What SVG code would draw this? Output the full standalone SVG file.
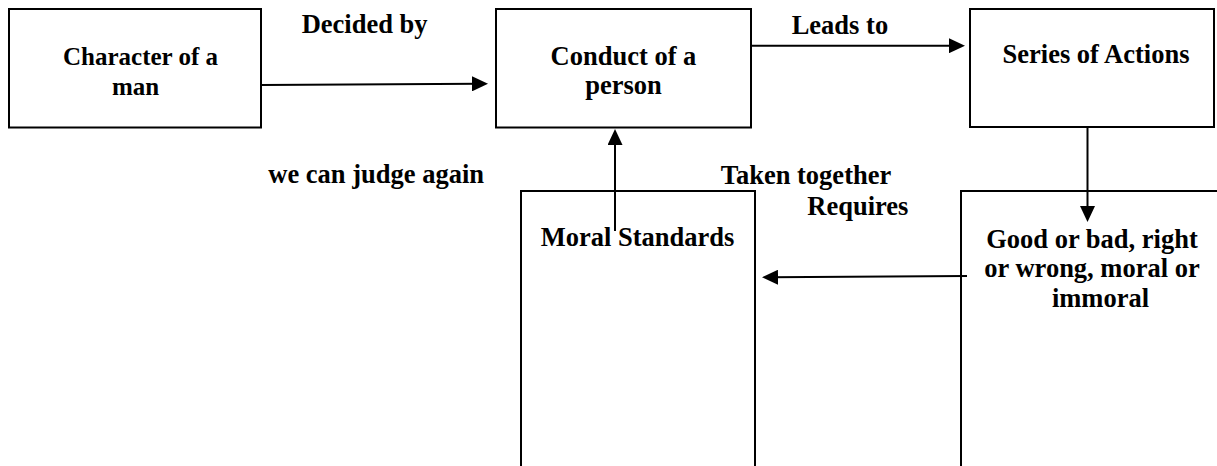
<svg xmlns="http://www.w3.org/2000/svg" width="1217" height="466" viewBox="0 0 1217 466">
<style>
.box{fill:#fff;stroke:#000;stroke-width:2}
.t{font-family:"Liberation Serif","Times New Roman",serif;font-weight:bold;font-size:26.5px;fill:#000}
.c{text-anchor:middle}
.ln{stroke:#000;stroke-width:2;fill:none;marker-end:url(#ah)}
</style>
<defs>
<marker id="ah" viewBox="0 0 16 15" refX="8" refY="7.5" markerWidth="16" markerHeight="15" markerUnits="userSpaceOnUse" orient="auto">
<path d="M0,0 L16,7.5 L0,15 z" fill="#000"/>
</marker>
</defs>
<rect width="1217" height="466" fill="#fff"/>
<g id="node-character">
<rect class="box" x="9" y="9" width="252" height="118.5"/>
<text class="t" x="63" y="64.5" style="font-size:25px">Character of a</text>
<text class="t c" x="135.5" y="95" style="font-size:25px">man</text>
</g>
<g id="node-conduct">
<rect class="box" x="496" y="9" width="255" height="118.5"/>
<text class="t c" x="623.5" y="64.5">Conduct of a</text>
<text class="t c" x="623.5" y="94">person</text>
</g>
<g id="node-series">
<rect class="box" x="970" y="9" width="244" height="118"/>
<text class="t c" x="1096" y="63.3">Series of Actions</text>
</g>
<g id="node-moral">
<rect class="box" x="521" y="191" width="234" height="300"/>
<text class="t" x="540.7" y="245.7">Moral Standards</text>
</g>
<g id="node-goodbad">
<rect class="box" x="961" y="191" width="270" height="300"/>
<text class="t c" x="1092" y="247.5">Good or bad, right</text>
<text class="t c" x="1092" y="277">or wrong, moral or</text>
<text class="t c" x="1100.5" y="306.5">immoral</text>
</g>
<g id="connectors">
<path class="ln" d="M261,85 L480,83.8"/>
<path class="ln" d="M751,45.7 L957,45.7"/>
<path class="ln" d="M1087.5,127 L1087.5,214"/>
<path class="ln" d="M967,276 L770,277.3"/>
<path class="ln" d="M615,231 L615,137"/>
<text class="t" x="301.7" y="33.3">Decided by</text>
<text class="t" x="791.7" y="34.3">Leads to</text>
<text class="t" x="268.3" y="183.3">we can judge again</text>
<text class="t" x="720.7" y="184">Taken together</text>
<text class="t" x="807.3" y="215">Requires</text>
</g>
</svg>
